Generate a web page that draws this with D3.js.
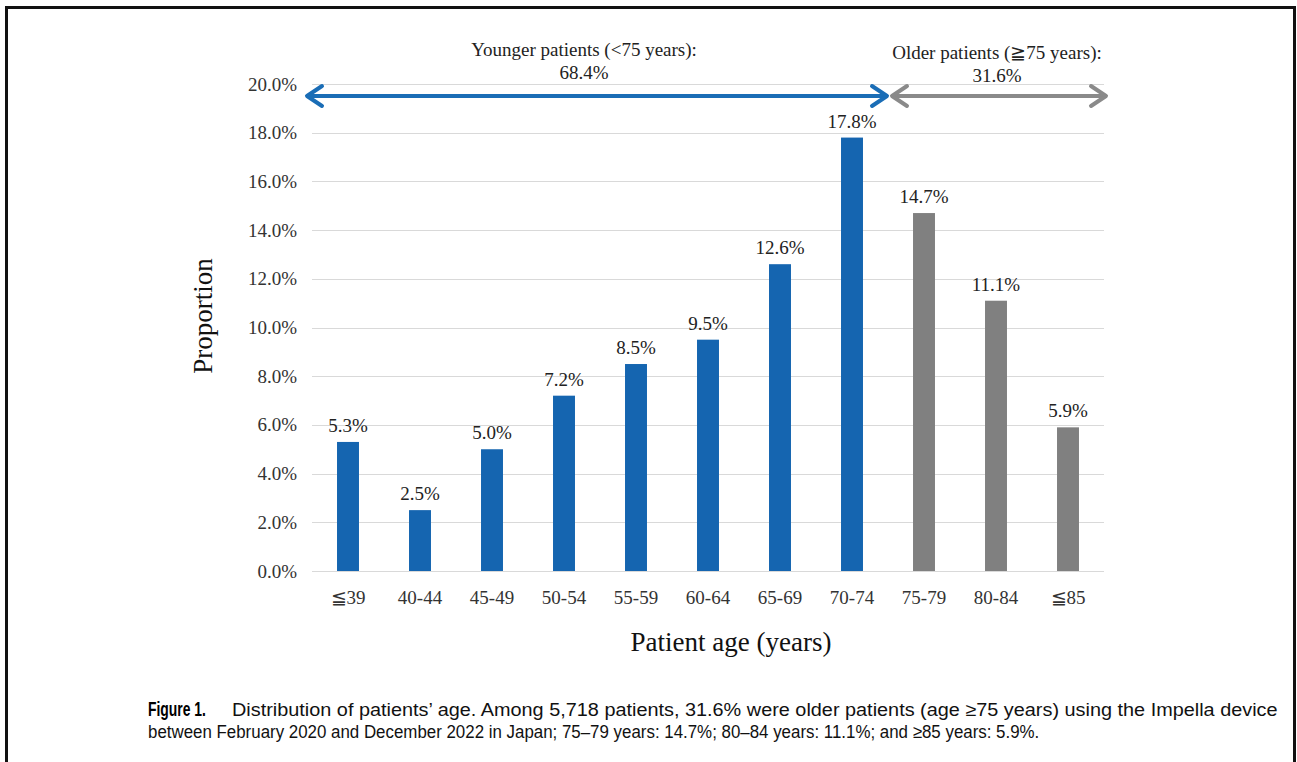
<!DOCTYPE html>
<html>
<head>
<meta charset="utf-8">
<script src="https://cdn.jsdelivr.net/npm/d3@7/dist/d3.min.js"></script>
<style>
  html, body { margin: 0; padding: 0; background: #fff; }
  svg { display: block; }
</style>
</head>
<body>
<svg id="chart" width="1297" height="762"></svg>
<script>
// Age groups and share of patients (%) in each
const categories = ["≦39", "40-44", "45-49", "50-54", "55-59", "60-64", "65-69", "70-74", "75-79", "80-84", "≦85"];
const values = [5.3, 2.5, 5.0, 7.2, 8.5, 9.5, 12.6, 17.8, 14.7, 11.1, 5.9];
const groups = ["young", "young", "young", "young", "young", "young", "young", "young", "old", "old", "old"];
const yTicks = [0, 2, 4, 6, 8, 10, 12, 14, 16, 18, 20];

// Group spans shown above the bars
const spanLabels = ["Younger patients (<75 years):", "Older patients (≧75 years):"];
const spanValues = ["68.4%", "31.6%"];

const captionLines = [
  "Distribution of patients’ age. Among 5,718 patients, 31.6% were older patients (age ≥75 years) using the Impella device",
  "between February 2020 and December 2022 in Japan; 75–79 years: 14.7%; 80–84 years: 11.1%; and ≥85 years: 5.9%."
];

const colors = { young: "#1565b0", old: "#808080" };
const arrowColors = { young: "#1a6db6", old: "#8a8a8a" };
const serif = "'Liberation Serif', 'Times New Roman', serif";
const labelSize = 19;

const svg = d3.select("#chart");

// outer frame
svg.append("rect")
  .attr("x", 6.5).attr("y", 7.5)
  .attr("width", 1288).attr("height", 800)
  .attr("fill", "none").attr("stroke", "#111").attr("stroke-width", 3);

const x = d3.scaleBand()
  .domain(categories)
  .range([312, 1104])
  .paddingInner(0.695)
  .paddingOuter(0.3475);

const y = d3.scaleLinear().domain([0, 20]).range([571, 84]);

// gridlines
svg.append("g")
  .selectAll("line")
  .data(yTicks)
  .join("line")
  .attr("x1", 312).attr("x2", 1104)
  .attr("y1", d => Math.round(y(d)) + 0.5)
  .attr("y2", d => Math.round(y(d)) + 0.5)
  .attr("stroke", "#d9d9d9").attr("stroke-width", 1);

// y axis labels
const yAxis = d3.axisLeft(y)
  .tickValues(yTicks)
  .tickSize(0)
  .tickPadding(0)
  .tickFormat(d => d.toFixed(1) + "%");
const yg = svg.append("g").attr("transform", "translate(297,0)").call(yAxis);
yg.select(".domain").remove();
yg.selectAll("text")
  .attr("font-family", serif).attr("font-size", labelSize).attr("fill", "#333");

// x axis labels
const xAxis = d3.axisBottom(x).tickSize(0).tickPadding(0);
const xg = svg.append("g").attr("transform", "translate(0,590)").call(xAxis);
xg.select(".domain").remove();
xg.selectAll("text")
  .attr("font-family", serif).attr("font-size", labelSize).attr("fill", "#333");

// bars
svg.append("g")
  .selectAll("rect")
  .data(values)
  .join("rect")
  .attr("x", (d, i) => x(categories[i]))
  .attr("width", x.bandwidth())
  .attr("y", d => y(d))
  .attr("height", d => y(0) - y(d))
  .attr("fill", (d, i) => colors[groups[i]]);

// value labels
svg.append("g")
  .selectAll("text")
  .data(values)
  .join("text")
  .attr("x", (d, i) => x(categories[i]) + x.bandwidth() / 2)
  .attr("y", d => y(d) - 10)
  .attr("text-anchor", "middle")
  .attr("font-family", serif).attr("font-size", labelSize).attr("fill", "#222")
  .text(d => d.toFixed(1) + "%");

// axis titles
svg.append("text")
  .attr("transform", "translate(212,316) rotate(-90)")
  .attr("text-anchor", "middle")
  .attr("font-family", serif).attr("font-size", 27).attr("fill", "#111")
  .text("Proportion");

svg.append("text")
  .attr("x", 731).attr("y", 651)
  .attr("text-anchor", "middle")
  .attr("font-family", serif).attr("font-size", 27).attr("fill", "#111")
  .text("Patient age (years)");

// double-headed span arrows
const arrowY = 96;
const spans = [
  { key: "young", x0: 307, x1: 887, label: spanLabels[0], value: spanValues[0], cx: 584, ly: 56, vy: 79 },
  { key: "old", x0: 892, x1: 1106, label: spanLabels[1], value: spanValues[1], cx: 997, ly: 59, vy: 82 }
];

spans.forEach(s => {
  const g = svg.append("g")
    .attr("stroke", arrowColors[s.key])
    .attr("stroke-width", 4)
    .attr("fill", "none")
    .attr("stroke-linecap", "round")
    .attr("stroke-linejoin", "round");
  g.append("line")
    .attr("x1", s.x0 + 2).attr("x2", s.x1 - 2)
    .attr("y1", arrowY).attr("y2", arrowY);
  g.append("path")
    .attr("d", `M${s.x0 + 15},${arrowY - 10} L${s.x0},${arrowY} L${s.x0 + 15},${arrowY + 10}`);
  g.append("path")
    .attr("d", `M${s.x1 - 15},${arrowY - 10} L${s.x1},${arrowY} L${s.x1 - 15},${arrowY + 10}`);

  svg.append("text")
    .attr("x", s.cx).attr("y", s.ly)
    .attr("text-anchor", "middle")
    .attr("font-family", serif).attr("font-size", labelSize).attr("fill", "#222")
    .text(s.label);
  svg.append("text")
    .attr("x", s.cx).attr("y", s.vy)
    .attr("text-anchor", "middle")
    .attr("font-family", serif).attr("font-size", labelSize).attr("fill", "#222")
    .text(s.value);
});

// caption: condensed sans; each line is fitted to its own width
const sans = "'Liberation Sans', Arial, sans-serif";
const cap = svg.append("g").attr("font-family", sans).attr("fill", "#111").attr("font-size", 18.5);

function fittedLine(text, x0, x1, yPos, attrs) {
  const g = cap.append("g");
  const t = g.append("text").attr("x", 0).attr("y", yPos).text(text);
  Object.entries(attrs || {}).forEach(([k, v]) => t.attr(k, v));
  const k = (x1 - x0) / t.node().getComputedTextLength();
  g.attr("transform", `translate(${x0},0) scale(${k},1)`);
}

fittedLine("Figure 1.", 148, 206, 716, { "font-weight": "bold", "font-size": 21, "fill": "#000" });
fittedLine(captionLines[0], 232, 1278, 716);
fittedLine(captionLines[1], 148, 1040, 738);
</script>
</body>
</html>
